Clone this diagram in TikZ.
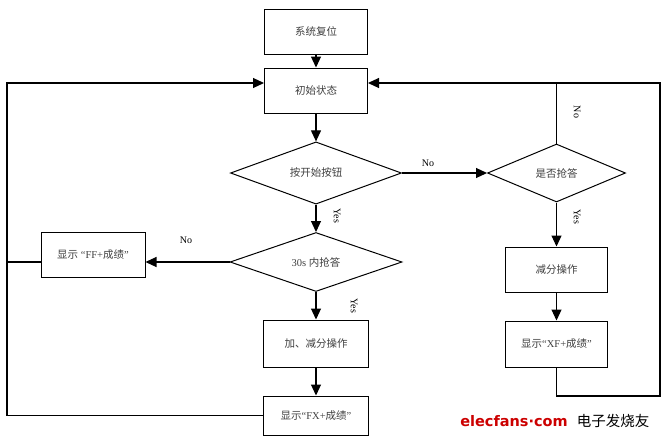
\documentclass[tikz,border=0pt]{standalone}
\usepackage{fontspec}
\setmainfont{Liberation Serif}
\newfontfamily\cjk{Noto Sans CJK SC}
\newfontfamily\logofont{DejaVu Sans}
\usetikzlibrary{positioning,calc,shapes.geometric,arrows.meta}

\begin{document}
\begin{tikzpicture}[x=1pt,y=-1pt,
    box/.style={rectangle,draw,line width=1pt,minimum width=103pt,minimum height=45pt,inner sep=0pt,anchor=center,text=black!75,font=\fontsize{10.5}{12}\selectfont},
    cond/.style={diamond,draw,line width=1pt,inner sep=0pt,anchor=center,text=black!75,font=\fontsize{10.5}{12}\selectfont},
    lab/.style={inner sep=0pt,font=\fontsize{10}{12}\selectfont},
    arr/.style={line width=1.1pt,-{Triangle[length=11pt,width=10pt]}},
    ln/.style={line width=1.1pt}]
    \fill[white] (0,0) rectangle (666,442);
    \useasboundingbox (0,0) rectangle (666,442);
    % main column
    \node[box] at (316,31.5) (reset) {\cjk 系统复位};
    \node[box] at (316,90.5) (init) {\cjk 初始状态};
    \node[cond,minimum width=171pt,minimum height=58pt] at (316,173) (start) {\cjk 按开始按钮};
    \node[cond,minimum width=172pt,minimum height=59pt] at (316,262) (in30) {30s {\cjk 内抢答}};
    \node[box,minimum width=104pt] at (93,254.5) (ff) {{\cjk 显示} “FF+{\cjk 成绩}”};
    \node[box,minimum width=105pt,minimum height=47pt] at (316,343.5) (addsub) {\cjk 加、减分操作};
    \node[box,minimum width=105pt,minimum height=39pt] at (316,415.5) (fx) {{\cjk 显示}“FX+{\cjk 成绩}”};
    % right column
    \node[cond,minimum width=138pt,minimum height=58pt] at (556.5,173) (ask) {\cjk 是否抢答};
    \node[box,minimum width=102pt] at (556.5,269.5) (sub) {\cjk 减分操作};
    \node[box,minimum width=102pt,minimum height=46pt] at (556.5,344) (xf) {{\cjk 显示}“XF+{\cjk 成绩}”};
    \coordinate (lt) at (7,83);
    \coordinate (rt) at (660,83);
    \coordinate (rb) at (660,396);
    % connectors
    \draw[arr] (reset)--(init);
    \draw[arr] (init)--(start);
    \draw[arr] (start.east)--(ask.west);
    \draw[arr] (start.south)--(in30.north);
    \draw[arr] (in30.west)--(in30.west -| ff.east);
    \draw[arr] (in30.south)--(addsub.north);
    \draw[arr] (addsub)--(fx);
    \draw[arr] (ask.south)--(sub.north);
    \draw[arr] (sub)--(xf);
    \draw[ln] (in30.west -| ff.west)--(in30.west -| lt);
    \draw[arr] (fx.west) -| (lt) -- (lt -| init.west);
    \draw[arr] (xf.south) |- (rb) -- (rt) -- (rt -| init.east);
    \draw[ln] (ask.north)--(ask.north |- rt);
    % labels
    \node[lab] at (428,163) (no1) {No};
    \node[lab] at (186,240) (no2) {No};
    \node[lab,rotate=-90] at (577,112) (no3) {No};
    \node[lab,rotate=-90] at (337,216) (yes1) {Yes};
    \node[lab,rotate=-90] at (354,306) (yes2) {Yes};
    \node[lab,rotate=-90] at (577,217) (yes3) {Yes};
    % watermark
    \node[inner sep=0pt,text=red!80!black,font=\logofont\bfseries\fontsize{14.5}{15}\selectfont] at (514,421) (logo) {elecfans·com};
    \node[inner sep=0pt,font=\cjk\fontsize{14.5}{15}\selectfont] at (613,421) (logocn) {电子发烧友};
\end{tikzpicture}
\end{document}
